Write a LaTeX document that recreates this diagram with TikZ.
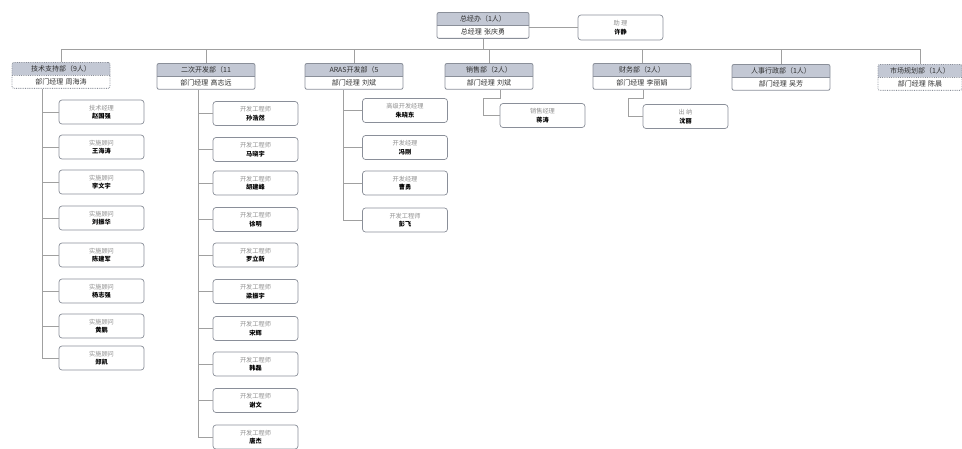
\documentclass[tikz,border=0pt]{standalone}
\usepackage{fontspec}
\setmainfont{Noto Sans CJK SC}
\usetikzlibrary{shapes.multipart,calc}
\definecolor{hdr}{HTML}{C3C8D4}
\definecolor{bord}{HTML}{8A8F99}
\definecolor{lnc}{HTML}{A0A0A0}
\definecolor{ttl}{HTML}{909090}
\definecolor{txt}{HTML}{303030}
\begin{document}
\begin{tikzpicture}[x=1pt,y=-1pt,
  dept/.style={rectangle split, rectangle split parts=2,
    rectangle split part fill={hdr,white}, draw=bord, line width=0.8pt,
    rounded corners=2pt, text width=#1, align=center, inner xsep=2pt, inner ysep=2.8pt,
    font=\fontsize{7}{8.5}\selectfont, text=txt, anchor=north},
  dept/.default=94pt,
  childbox/.style={draw=bord, line width=0.7pt, rounded corners=3pt, fill=white,
    minimum width=85pt, minimum height=24pt, align=center, inner sep=1pt,
    font=\fontsize{6.2}{8.5}\selectfont},
  conn/.style={draw=lnc, line width=0.8pt},
  dotb/.style={densely dotted}
]
\useasboundingbox (0,0) rectangle (962,448);

% top
\node[dept=88pt] (top) at (483,12) {总经办（1人）\nodepart{two}总经理 张庆勇};
\node[childbox, minimum width=85pt, minimum height=25pt] (asst) at (620.5,27.5)
  {{\color{ttl}助\ 理}\\\textbf{许静}};
\draw[conn] (top.east |- asst.west) -- (asst.west);

% departments
\node[dept, dotb] (d1) at (61,62)  {技术支持部（9人）\nodepart{two}部门经理 周海涛};
\node[dept] (d2) at (206,63) {二次开发部（11\nodepart{two}部门经理 高志远};
\node[dept] (d3) at (354,63) {ARAS开发部（5\nodepart{two}部门经理 刘斌};
\node[dept=84pt] (d4) at (489,63) {销售部（2人）\nodepart{two}部门经理 刘斌};
\node[dept] (d5) at (642,63) {财务部（2人）\nodepart{two}部门经理 李丽娟};
\node[dept] (d6) at (781,64) {人事行政部（1人）\nodepart{two}部门经理 吴芳};
\node[dept=80pt, dotb] (d7) at (920,64) {市场规划部（1人）\nodepart{two}部门经理 陈晨};

\coordinate (busL) at (61,49);
\coordinate (busR) at (920,49);
\draw[conn] (top.south) -- (top.south |- busL);
\draw[conn] (busL) -- (busR);
\foreach \d in {d1,d2,d3,d4,d5,d6,d7} {\draw[conn] (\d.north |- busL) -- (\d.north);}

% tech support children
\coordinate (t1) at (42,0);
\foreach \i/\y/\t/\n in {1/112/技术经理/赵国强, 2/147/实施顾问/王海涛, 3/182/实施顾问/李文宇,
  4/218/实施顾问/刘振华, 5/255/实施顾问/陈建军, 6/291/实施顾问/杨志强,
  7/326/实施顾问/黄鹏, 8/358/实施顾问/郑凯} {
  \node[childbox] (a\i) at (101.5,\y) {{\color{ttl}\t}\\\textbf{\n}};
  \draw[conn] (a\i.west -| t1) -- (a\i.west);
}
\draw[conn] (d1.south -| t1) -- (a8.west -| t1);

% secondary development children
\coordinate (t2) at (198,0);
\foreach \i/\y/\n in {1/113.5/孙浩然, 2/149.5/马晓宇, 3/183/胡建峰, 4/219.5/徐明,
  5/255/罗立新, 6/291.5/梁振宇, 7/328.5/宋辉, 8/364/韩磊, 9/400.5/谢文, 10/437/唐杰} {
  \node[childbox] (b\i) at (255.5,\y) {{\color{ttl}开发工程师}\\\textbf{\n}};
  \draw[conn] (b\i.west -| t2) -- (b\i.west);
}
\draw[conn] (d2.south -| t2) -- (b10.west -| t2);

% ARAS children
\coordinate (t3) at (343,0);
\foreach \i/\y/\t/\n in {1/110.5/高级开发经理/朱晓东, 2/147.5/开发经理/冯刚,
  3/183/开发经理/曹勇, 4/220/开发工程师/彭飞} {
  \node[childbox] (c\i) at (405,\y) {{\color{ttl}\t}\\\textbf{\n}};
  \draw[conn] (c\i.west -| t3) -- (c\i.west);
}
\draw[conn] (d3.south -| t3) -- (c4.west -| t3);

% sales child
\node[childbox] (s1) at (542.5,115.5) {{\color{ttl}销售经理}\\\textbf{蒋涛}};
\coordinate (s1a) at (500,98);
\coordinate (s1b) at (483,98);
\draw[conn] (d4.south -| s1a) -- (s1a) -- (s1b) |- (s1.west);

% finance child
\node[childbox] (f1) at (685.5,116.5) {{\color{ttl}出\ 纳}\\\textbf{沈丽}};
\coordinate (f1a) at (643,98);
\coordinate (f1b) at (628,98);
\draw[conn] (d5.south -| f1a) -- (f1a) -- (f1b) |- (f1.west);
\end{tikzpicture}
\end{document}
